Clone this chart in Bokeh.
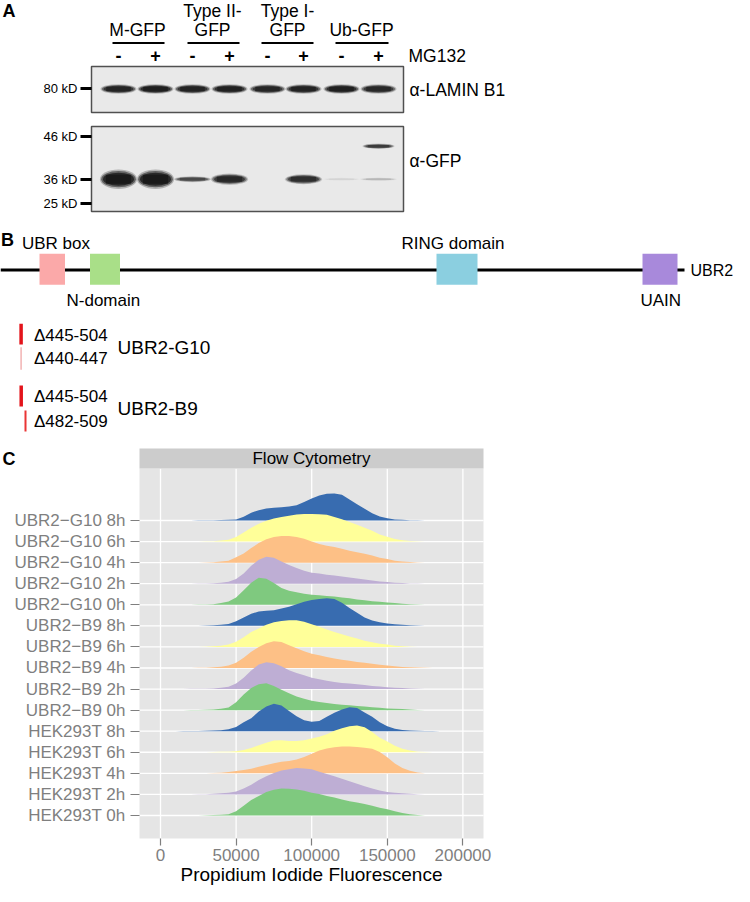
from bokeh.plotting import figure
from bokeh.models import Range1d, FixedTicker, LinearAxis
from bokeh.embed import file_html
from bokeh.resources import INLINE
from bokeh.core.properties import value

FONT = "Liberation Sans"

# ---------------- Panel A data (western blot) ----------------
construct_line1 = ["", "Type II-", "Type I-", ""]
construct_line2 = ["M-GFP", "GFP", "GFP", "Ub-GFP"]
mg132 = ["-", "+", "-", "+", "-", "+", "-", "+"]
mw_markers = ["80 kD", "46 kD", "36 kD", "25 kD"]
lamin_b1_signal = [0.85, 0.92, 0.86, 0.88, 0.82, 0.86, 0.90, 0.80]
gfp_36kd_signal = [1.00, 1.00, 0.55, 0.80, 0.00, 0.75, 0.04, 0.12]
gfp_46kd_signal = [0.00, 0.00, 0.00, 0.00, 0.00, 0.00, 0.00, 0.62]

# ---------------- Panel B data (UBR2 domains) ----------------
domain_names = ["UBR box", "N-domain", "RING domain", "UAIN"]
domain_colors = ["#fba9a9", "#a9df88", "#8bcfe0", "#a889db"]
clone_names = ["UBR2-G10", "UBR2-B9"]
clone_deletions = [["Δ445-504", "Δ440-447"], ["Δ445-504", "Δ482-509"]]

# ---------------- Panel C data (flow cytometry ridges) ----------------
pi_grid = list(range(10000, 190001, 5000))
hek293t_0h = [0,0,0,0,1,2,3,6,20,46,73,93,111,122,128,127,123,117,108,102,93,85,76,68,62,54,46,37,29,20,12,6,2,0,0,0,0]
hek293t_2h = [0,0,0,1,1,3,5,8,14,28,46,68,86,102,114,120,125,123,119,108,97,86,74,62,51,39,28,19,12,8,5,3,1,0,0,0,0]
hek293t_4h = [0,0,0,0,1,2,3,6,11,16,22,31,40,48,55,59,66,78,93,108,118,124,127,127,125,122,117,101,76,47,25,12,4,1,0,0,0]
hek293t_6h = [0,0,0,0,0,1,2,3,5,11,20,33,45,56,57,54,54,57,65,74,86,102,114,123,127,119,96,69,51,31,17,8,3,1,0,0,0]
hek293t_8h = [0,1,1,1,2,3,5,9,20,42,62,93,117,130,122,96,71,52,45,49,68,88,103,114,110,89,68,42,23,12,6,3,2,1,1,0,0]
b9_0h = [0,0,1,1,2,3,6,12,37,74,105,123,127,114,97,80,65,54,45,39,34,29,26,23,20,17,14,11,8,6,5,3,1,0,0,0,0]
b9_2h = [0,0,1,1,2,3,6,11,26,54,88,116,127,122,108,89,76,65,54,46,40,34,29,26,23,19,15,12,9,6,5,3,1,0,0,0,0]
b9_4h = [0,0,0,1,1,3,6,12,25,49,77,100,117,127,123,108,94,80,68,60,52,45,39,34,29,25,20,15,12,8,5,3,2,1,0,0,0]
b9_6h = [0,0,0,0,1,3,6,12,25,46,71,88,105,117,123,127,127,120,108,96,83,71,60,49,40,29,22,15,11,6,3,1,0,0,0,0,0]
b9_8h = [0,0,1,1,2,3,5,9,22,40,57,68,72,74,82,91,103,114,123,128,131,128,110,85,62,40,25,17,11,8,5,3,2,1,0,0,0]
g10_0h = [0,0,0,1,1,3,8,15,34,69,105,128,124,103,80,66,59,52,48,45,42,39,35,31,25,22,17,14,11,8,5,3,1,0,0,0,0]
g10_2h = [0,0,0,1,1,2,5,9,22,49,85,114,128,123,105,89,74,62,52,48,43,39,34,29,25,20,15,11,8,5,3,1,1,0,0,0,0]
g10_4h = [0,0,0,0,1,2,5,9,25,43,69,93,111,122,127,127,122,113,100,89,80,74,66,57,49,42,34,23,17,9,5,3,1,0,0,0,0]
g10_6h = [0,0,0,0,1,2,5,9,22,43,65,85,99,110,117,123,128,131,131,130,127,117,106,93,80,66,51,34,23,12,6,3,1,0,0,0,0]
g10_8h = [0,0,0,1,1,1,2,3,5,18,37,49,57,60,63,66,72,88,105,119,127,128,122,100,77,56,35,19,11,5,3,1,1,0,0,0,0]

cell_lines = ["HEK293T", "UBR2\u2212B9", "UBR2\u2212G10"]
time_points = ["0h", "2h", "4h", "6h", "8h"]
time_colors = ["#7fc97f", "#beaed4", "#fdc086", "#ffff99", "#386cb0"]
x_ticks = [0, 50000, 100000, 150000, 200000]
x_tick_labels = ["0", "50000", "100000", "150000", "200000"]

densities = [hek293t_0h, hek293t_2h, hek293t_4h, hek293t_6h, hek293t_8h,
             b9_0h, b9_2h, b9_4h, b9_6h, b9_8h,
             g10_0h, g10_2h, g10_4h, g10_6h, g10_8h]
row_labels = [f"{c} {t}" for c in cell_lines for t in time_points]
for d in densities:
    assert len(d) == len(pi_grid)

# ---------------- geometry (canvas pixels) ----------------
W, H = 734, 886
PANEL_L, PANEL_R = 139, 483      # panel C frame, canvas px
STRIP_T, PANEL_T = 448, 468
ROW14_Y, ROW_PX = 520, 21.07
PANEL_B = 838
X0, X1 = -13889, 213624          # panel C data limits
k = (X1 - X0) / (PANEL_R - PANEL_L)
PI_START, PI_END = X0 - PANEL_L * k, X1 + (W - PANEL_R) * k


def row_at(c):
    return 14 - (c - ROW14_Y) / ROW_PX


ROWS_START, ROWS_END = row_at(H), row_at(0)
Y_BOTTOM, Y_STRIP, Y_TOP = row_at(PANEL_B), row_at(PANEL_T), row_at(STRIP_T)

p = figure(width=W, height=H, x_range=Range1d(0, W), y_range=Range1d(H, 0),
           output_backend="svg", toolbar_location=None, min_border=0,
           x_axis_type=None, y_axis_type=None)
p.grid.visible = False
p.outline_line_color = None
p.background_fill_color = "white"
p.extra_x_ranges = {"pi": Range1d(PI_START, PI_END)}
p.extra_y_ranges = {"rows": Range1d(ROWS_START, ROWS_END)}


def txt(x, y, s, size, align="left", bold=False, color="black", **kw):
    p.text(x=[x], y=[y], text=[s], text_font=value(FONT), text_font_size=value(size),
           text_align=align, text_baseline="middle", text_color=color,
           text_font_style="bold" if bold else "normal", **kw)


# ================= Panel A =================
lane_x = [118, 155, 192, 229, 267, 303, 341, 378]
group_cx = [137, 212, 287, 361]
group_x0 = [112, 187, 261, 335]
group_x1 = [164, 239, 313, 388]

txt(2, 10, "A", "18px", bold=True)
for cx, l1, l2 in zip(group_cx, construct_line1, construct_line2):
    if l1:
        txt(cx, 10, l1, "17.5px", align="center")
    txt(cx, 29, l2, "17.5px", align="center")
p.segment(x0=group_x0, x1=group_x1, y0=[42.5] * 4, y1=[42.5] * 4, line_color="black", line_width=2)
for x, s in zip(lane_x, mg132):
    txt(x, 55, s, "18px", align="center", bold=True)
txt(408, 55, "MG132", "17.5px")

p.quad(left=[91, 91], right=[403, 403], top=[66, 126], bottom=[112, 211],
       fill_color="#e9e9e9", line_color="#505050", line_width=1.5)
mw_y = [88, 136, 179, 203]
for s, y in zip(mw_markers, mw_y):
    txt(77, y, s, "13px", align="right")
p.segment(x0=[80] * 4, x1=[91] * 4, y0=mw_y, y1=mw_y, line_color="black", line_width=3)
txt(409, 89, "\u03b1-LAMIN B1", "17.5px")
txt(409, 160, "\u03b1-GFP", "17.5px")


def draw_bands(yc, signal, w, fixed_h=None):
    xs, hs, ss = [], [], []
    for x, s in zip(lane_x, signal):
        if s > 0:
            xs.append(x)
            ss.append(s)
            hs.append(fixed_h if fixed_h else 3 + 15 * s ** 3)
    n = len(xs)
    if n == 0:
        return
    for fw, fh, a in [(1.03, 1.08, 0.25), (0.96, 0.9, 0.5), (0.86, 0.72, 0.7)]:
        p.ellipse(x=xs, y=[yc] * n, width=[w * fw] * n, height=[h * fh for h in hs],
                  fill_color="#111111", fill_alpha=[a * s for s in ss], line_color=None)
    p.rect(x=xs, y=[yc] * n, width=[w * 0.7] * n, height=[h * 0.5 for h in hs],
           fill_color="#111111", fill_alpha=[0.6 * s for s in ss], line_color=None)


draw_bands(88.5, lamin_b1_signal, 35, fixed_h=9)
draw_bands(178.7, gfp_36kd_signal, 36)
draw_bands(145.7, gfp_46kd_signal, 31, fixed_h=5)

# ================= Panel B =================
txt(0.5, 239, "B", "18px", bold=True)
p.segment(x0=[0], x1=[684], y0=[269.5], y1=[269.5], line_color="black", line_width=3)
box_left = [39, 89.5, 436, 642]
box_right = [64.5, 119.5, 477, 677]
p.quad(left=box_left, right=box_right, top=[253.3] * 4, bottom=[284.3] * 4,
       fill_color=domain_colors, line_color=None)
label_pos = [(21.5, 243), (66, 300), (401, 243), (640, 300)]
for name, (lx, ly) in zip(domain_names, label_pos):
    txt(lx, ly, name, "17px")
txt(690, 269.5, "UBR2", "16px")

p.segment(x0=[20.6, 20.7], x1=[20.6, 20.7], y0=[323.3, 385], y1=[344, 406],
          line_color="#e3141b", line_width=3.5)
p.segment(x0=[20.6], x1=[20.6], y0=[346.7], y1=[369.3], line_color="#f2b3b3", line_width=1.5)
p.segment(x0=[25], x1=[25], y0=[410], y1=[431], line_color="#ea3535", line_width=2)
clone_y = [(335, 358.3, 347.3), (396, 420.7, 408.3)]
for name, dels, (y1, y2, yc) in zip(clone_names, clone_deletions, clone_y):
    txt(33.4, y1, dels[0], "17px")
    txt(33.4, y2, dels[1], "17px")
    txt(117, yc, name, "19px")

# ================= Panel C =================
txt(2, 458, "C", "18px", bold=True)
C = dict(x_range_name="pi", y_range_name="rows")
n_rows = len(row_labels)

p.quad(left=[X0], right=[X1], bottom=[Y_BOTTOM], top=[Y_STRIP], fill_color="#e5e5e5",
       line_color=None, **C)
p.segment(x0=x_ticks, x1=x_ticks, y0=[Y_BOTTOM] * len(x_ticks), y1=[Y_STRIP] * len(x_ticks),
          line_color="white", line_width=1.3, **C)
p.segment(x0=[X0] * n_rows, x1=[X1] * n_rows, y0=list(range(n_rows)), y1=list(range(n_rows)),
          line_color="white", line_width=1.3, **C)

xs, ys, cols = [], [], []
for row in reversed(range(n_rows)):
    d = densities[row]
    xs.append(pi_grid + pi_grid[::-1])
    ys.append([row + v / 100.0 for v in d] + [row] * len(pi_grid))
    cols.append(time_colors[row % len(time_points)])
p.patches(xs, ys, fill_color=cols, line_color=None, **C)

p.quad(left=[X0], right=[X1], bottom=[Y_STRIP], top=[Y_TOP], fill_color="#cccccc",
       line_color=None, **C)
txt((X0 + X1) / 2, (Y_STRIP + Y_TOP) / 2, "Flow Cytometry", "17px", align="center", **C)


def style_axis(ax):
    ax.axis_line_color = None
    ax.major_tick_line_color = "#7f7f7f"
    ax.major_tick_line_width = 1.2
    ax.major_tick_out = 9
    ax.major_tick_in = 0
    ax.minor_tick_line_color = None
    ax.major_label_text_font = FONT
    ax.major_label_text_font_size = "17px"
    ax.major_label_text_color = "#7f7f7f"
    ax.major_label_standoff = 5


xaxis = LinearAxis(x_range_name="pi", y_range_name="rows", fixed_location=Y_BOTTOM,
                   ticker=FixedTicker(ticks=x_ticks), bounds=(X0, X1),
                   major_label_overrides={t: l for t, l in zip(x_ticks, x_tick_labels)},
                   axis_label="Propidium Iodide Fluorescence")
style_axis(xaxis)
xaxis.major_tick_out = 7
xaxis.major_label_standoff = 3
xaxis.axis_label_text_font = FONT
xaxis.axis_label_text_font_size = "19px"
xaxis.axis_label_text_font_style = "normal"
xaxis.axis_label_text_color = "black"
xaxis.axis_label_standoff = 0
p.add_layout(xaxis, "below")

yaxis = LinearAxis(x_range_name="pi", y_range_name="rows", fixed_location=X0,
                   ticker=FixedTicker(ticks=list(range(n_rows))), bounds=(Y_BOTTOM, Y_STRIP),
                   major_label_overrides={i: l for i, l in enumerate(row_labels)})
style_axis(yaxis)
p.add_layout(yaxis, "left")

open("out.html", "w").write(file_html(p, INLINE))
